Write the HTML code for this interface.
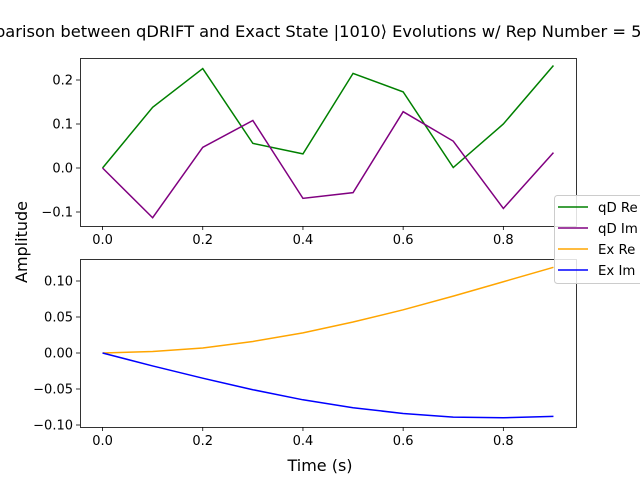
<!DOCTYPE html>
<html><head><meta charset="utf-8"><style>
body{margin:0;background:#fff}
svg text{font-family:"DejaVu Sans","Liberation Sans",sans-serif}
</style></head><body>
<svg width="640" height="480" viewBox="0 0 640 480" xmlns="http://www.w3.org/2000/svg">
<rect width="640" height="480" fill="#fff"/>
<text x="310" y="37" text-anchor="middle" font-size="16.3">Comparison between qDRIFT and Exact State |1010⟩ Evolutions w/ Rep Number = 500</text>
<text x="27" y="242" text-anchor="middle" font-size="16" transform="rotate(-90 27 242)">Amplitude</text>
<text x="320" y="471" text-anchor="middle" font-size="16">Time (s)</text>
<g id="top"></g>
<g id="bot"></g>
<g>
<rect x="554.5" y="195.5" width="100" height="88" rx="3" fill="#fff" fill-opacity="0.85" stroke="#ccc"/>
<line x1="558" y1="207" x2="588" y2="207" stroke="green" stroke-width="1.5"/>
<text x="598" y="212" font-size="13.3">qD Re</text>
<line x1="558" y1="228" x2="588" y2="228" stroke="purple" stroke-width="1.5"/>
<text x="598" y="233" font-size="13.3">qD Im</text>
<line x1="558" y1="249" x2="588" y2="249" stroke="orange" stroke-width="1.5"/>
<text x="598" y="254" font-size="13.3">Ex Re</text>
<line x1="558" y1="270" x2="588" y2="270" stroke="blue" stroke-width="1.5"/>
<text x="598" y="275" font-size="13.3">Ex Im</text>
</g>
</svg>
<script>
const times=[0,0.1,0.2,0.3,0.4,0.5,0.6,0.7,0.8,0.9];
const qdRe=[0,0.138,0.226,0.056,0.032,0.215,0.173,0.001,0.100,0.233];
const qdIm=[0,-0.113,0.047,0.108,-0.069,-0.056,0.128,0.061,-0.092,0.035];
const exRe=[0,0.002,0.007,0.016,0.028,0.043,0.060,0.079,0.099,0.119];
const exIm=[0,-0.018,-0.035,-0.051,-0.065,-0.076,-0.084,-0.089,-0.090,-0.088];
const xTicks=[0,0.2,0.4,0.6,0.8];
const topYTicks=[-0.1,0,0.1,0.2];
const botYTicks=[-0.1,-0.05,0,0.05,0.1];
const NS="http://www.w3.org/2000/svg";
function mk(tag,attrs,parent){const e=document.createElementNS(NS,tag);for(const k in attrs)e.setAttribute(k,attrs[k]);parent.appendChild(e);return e;}
const X0=80,X1=576;
const xs=v=>X0+(v+0.045)*(X1-X0)/0.99;
function panel(g,top,bottom,ymin,ymax,ticks,dec,series){
  const ys=v=>bottom-(v-ymin)*(bottom-top)/(ymax-ymin);
  series.forEach(s=>{
    const p=mk('polyline',{points:times.map((t,i)=>xs(t)+','+ys(s.d[i])).join(' '),fill:'none',stroke:s.c,'stroke-width':1.5},g);
    
    
  });
  mk('rect',{x:X0+0.5,y:top+0.5,width:X1-X0,height:bottom-top,fill:'none',stroke:'#000','stroke-width':0.8},g);
  xTicks.forEach(t=>{const x=xs(t);mk('line',{x1:x,y1:bottom,x2:x,y2:bottom+4,stroke:'#000','stroke-width':0.8},g);
    const tx=mk('text',{x:x,y:bottom+18,'text-anchor':'middle','font-size':13},g);tx.textContent=t.toFixed(1);
    });
  ticks.forEach(t=>{const y=ys(t);mk('line',{x1:X0,y1:y,x2:X0-4,y2:y,stroke:'#000','stroke-width':0.8},g);
    const tx=mk('text',{x:X0-7,y:y+4.5,'text-anchor':'end','font-size':13},g);tx.textContent=(t<0?'\u2212':'')+Math.abs(t).toFixed(dec);
    });
}
panel(document.getElementById('top'),58,226,(168-226)/440,(168-58)/440,topYTicks,1,[{d:qdRe,c:'green',n:'qd-re-line'},{d:qdIm,c:'purple',n:'qd-im-line'}]);
panel(document.getElementById('bot'),259,427,-(427-353)/720,(353-259)/720,botYTicks,2,[{d:exRe,c:'orange',n:'ex-re-line'},{d:exIm,c:'blue',n:'ex-im-line'}]);
</script>
</body></html>
